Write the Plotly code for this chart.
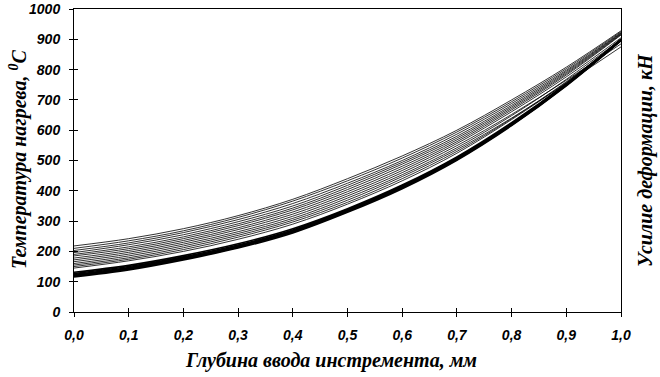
import plotly.graph_objects as go

depth = [0.0, 0.1, 0.2, 0.3, 0.4, 0.5, 0.6, 0.7, 0.8, 0.9, 1.0]
x_tick_vals = [0.0, 0.1, 0.2, 0.3, 0.4, 0.5, 0.6, 0.7, 0.8, 0.9, 1.0]
x_tick_text = ["0,0", "0,1", "0,2", "0,3", "0,4", "0,5", "0,6", "0,7", "0,8", "0,9", "1,0"]
y_tick_vals = [0, 100, 200, 300, 400, 500, 600, 700, 800, 900, 1000]

# temperature curves (upper, thin group)
t01 = [218, 242, 275, 318, 372, 440, 515, 600, 700, 808, 928]
t02 = [210, 235, 268, 312, 366, 433, 508, 594, 694, 803, 925]
t03 = [203, 228, 262, 305, 358, 425, 500, 587, 688, 798, 922]
t04 = [196, 222, 255, 298, 350, 418, 494, 580, 682, 794, 920]
t05 = [190, 215, 248, 291, 343, 411, 488, 574, 677, 790, 918]
t06 = [185, 209, 242, 285, 337, 404, 481, 568, 672, 786, 916]
t07 = [178, 203, 236, 278, 330, 397, 474, 562, 667, 782, 914]
t08 = [172, 197, 230, 272, 323, 390, 467, 556, 661, 776, 905]
t09 = [166, 191, 224, 265, 316, 383, 460, 549, 652, 765, 885]
t10 = [160, 185, 218, 259, 309, 376, 453, 542, 648, 768, 900]
t11 = [155, 179, 212, 253, 303, 369, 447, 536, 640, 755, 875]
t12 = [150, 174, 206, 247, 297, 362, 440, 530, 638, 760, 895]
t13 = [145, 169, 200, 240, 290, 356, 433, 524, 635, 758, 902]
# lower, dense group
t14 = [131, 154, 186, 225, 275, 341, 419, 512, 625, 754, 900]
t15 = [127, 150, 182, 221, 271, 338, 416, 509, 622, 752, 899]
t16 = [124, 147, 179, 218, 268, 336, 414, 507, 620, 751, 898]
t17 = [121, 144, 177, 216, 266, 334, 412, 505, 619, 750, 897]
t18 = [119, 142, 175, 214, 264, 332, 410, 503, 617, 748, 896]
t19 = [116, 139, 172, 211, 261, 329, 407, 501, 615, 746, 895]

upper = [t01, t02, t03, t04, t05, t06, t07, t08, t09, t10, t11, t12, t13]
lower = [t14, t15, t16, t17, t18, t19]

fig = go.Figure()
for s in upper:
    fig.add_trace(go.Scatter(x=depth, y=s, mode="lines", line=dict(color="black", width=0.8, shape="spline"),
                             showlegend=False, hoverinfo="skip"))
for s in lower:
    fig.add_trace(go.Scatter(x=depth, y=s, mode="lines", line=dict(color="black", width=1.6, shape="spline"),
                             showlegend=False, hoverinfo="skip"))

tick_font = dict(family="Liberation Sans", size=14, weight="bold", style="italic")
title_font = dict(family="Liberation Serif", size=20, weight="bold", style="italic")

fig.update_layout(
    width=660, height=377,
    font=dict(family="Liberation Serif", color="black"),
    margin=dict(l=74, r=39, t=9, b=65, autoexpand=False),
    paper_bgcolor="white", plot_bgcolor="white",
    xaxis=dict(range=[0, 1], tickvals=x_tick_vals, ticktext=x_tick_text, ticks="outside", ticklen=4,
               tickcolor="black", showline=True, linecolor="black", linewidth=1, mirror=True,
               showgrid=False, zeroline=False, tickfont=tick_font, ticklabelstandoff=6),
    yaxis=dict(range=[0, 1000], tickvals=y_tick_vals, ticks="outside", ticklen=4,
               tickcolor="black", showline=True, linecolor="black", linewidth=1, mirror=True,
               showgrid=False, zeroline=False, tickfont=tick_font, ticklabelstandoff=6),
    xaxis2=dict(range=[0, 1], overlaying="x", tickvals=x_tick_vals, ticks="inside", ticklen=4,
                tickcolor="black", showticklabels=False, showgrid=False, zeroline=False, side="bottom"),
    yaxis2=dict(range=[0, 1000], overlaying="y", tickvals=y_tick_vals, ticks="inside", ticklen=4,
                tickcolor="black", showticklabels=False, showgrid=False, zeroline=False, side="left"),
)
# invisible trace to activate the overlay axes (cross-style ticks)
fig.add_trace(go.Scatter(x=[0], y=[0], xaxis="x2", yaxis="y2", mode="markers",
                         marker=dict(opacity=0), showlegend=False, hoverinfo="skip"))

fig.add_annotation(text="Глубина ввода инстремента, мм", xref="paper", yref="paper",
                   x=(331 - 74) / 547, y=(312 - 360) / 303, xanchor="center", yanchor="middle",
                   showarrow=False, font=title_font)
fig.add_annotation(text="Температура нагрева, <sup>0</sup>C", xref="paper", yref="paper",
                   x=(18 - 74) / 547, y=(312 - 160) / 303, xanchor="center", yanchor="middle",
                   textangle=-90, showarrow=False, font=title_font)
fig.add_annotation(text="Усилие деформации, кН", xref="paper", yref="paper",
                   x=(645 - 74) / 547, y=(312 - 160) / 303, xanchor="center", yanchor="middle",
                   textangle=-90, showarrow=False, font=title_font)

fig.write_html("out.html", config={"displayModeBar": False},
               post_script="document.body.style.margin='0';document.body.style.overflow='hidden';")
